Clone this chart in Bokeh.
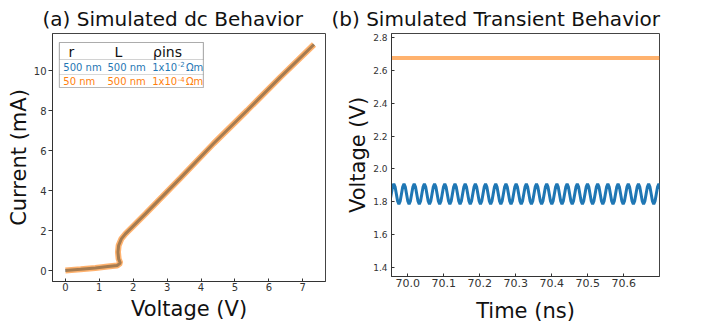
import numpy as np
from bokeh.plotting import figure
from bokeh.layouts import row
from bokeh.models import Range1d, FixedTicker, Label, BoxAnnotation, NumeralTickFormatter
from bokeh.embed import file_html
from bokeh.resources import INLINE

# ---------------- data ----------------
# (a) dc I-V curve (both cases overlap)
dc_voltage = [0.0, 0.45, 0.885, 1.25, 1.525, 1.62, 1.57, 1.55, 1.57, 1.65, 1.77,
              1.97, 2.36, 2.85, 3.39, 4.37, 5.36, 6.34, 7.33]
dc_current = [0.0, 0.06, 0.13, 0.2, 0.25, 0.37, 0.58, 0.92, 1.25, 1.58, 1.83,
              2.17, 2.83, 3.68, 4.62, 6.35, 8.0, 9.67, 11.3]

# (b) transient
# blue case: one period of the oscillation (8 samples)
blue_period_ns = 0.0283
blue_first_peak_ns = 69.9614
blue_period_shape = [1.909, 1.891, 1.847, 1.803, 1.785, 1.803, 1.847, 1.891]
blue_n_periods = 28
# orange case: flat
orange_time = [69.95, 70.70]
orange_voltage = [2.675, 2.675]

x_ticks_a = [0, 1, 2, 3, 4, 5, 6, 7]
y_ticks_a = [0, 2, 4, 6, 8, 10]
x_ticks_b = [70.0, 70.1, 70.2, 70.3, 70.4, 70.5, 70.6]
y_ticks_b = [1.4, 1.6, 1.8, 2.0, 2.2, 2.4, 2.6, 2.8]

table_header = ["r", "L", "\u03c1ins"]
table_r = ["500 nm", "50 nm"]
table_L = ["500 nm", "500 nm"]
table_rho_base = ["1x10", "1x10"]
table_rho_exp = ["-2", "-4"]
table_rho_unit = ["\u03a9m", "\u03a9m"]

BLUE = "#1f77b4"
ORANGE = "#ff7f0e"
FONT = "DejaVu Sans"

# blue waveform built by repeating the read period samples
n = len(blue_period_shape)
blue_time = blue_first_peak_ns - blue_period_ns + np.arange(blue_n_periods * n + 1) * blue_period_ns / n
blue_voltage = np.array(blue_period_shape * blue_n_periods + [blue_period_shape[0]])


def style(p, xfs, yfs):
    p.title.text_font = FONT
    p.title.text_font_size = "20px"
    p.title.text_font_style = "normal"
    p.title.text_color = "#111111"
    p.title.align = "left"
    p.outline_line_color = "#444444"
    p.outline_line_width = 1
    p.outline_line_alpha = 1
    p.grid.visible = False
    p.background_fill_color = "white"
    p.border_fill_color = "white"
    for ax, fs in ((p.xaxis[0], xfs), (p.yaxis[0], yfs)):
        ax.axis_label_text_font = FONT
        ax.axis_label_text_font_size = "21px"
        ax.axis_label_text_font_style = "normal"
        ax.axis_label_text_color = "#111111"
        ax.major_label_text_font = FONT
        ax.major_label_text_font_size = fs
        ax.major_label_text_color = "#333333"
        ax.axis_line_color = "#333333"
        ax.major_tick_line_color = "#333333"
        ax.minor_tick_line_color = None


# ---------------- (a) ----------------
p1 = figure(frame_width=273, frame_height=248, output_backend="svg", toolbar_location=None,
            x_range=Range1d(-0.38, 7.67), y_range=Range1d(-0.55, 11.85),
            min_border_left=52, min_border_right=6, min_border_top=33, min_border_bottom=44,
            title="(a) Simulated dc Behavior")
style(p1, "10px", "10px")
p1.title.offset = -10
p1.title.standoff = 6
p1.xaxis.axis_label = "Voltage (V)"
p1.yaxis.axis_label = "Current (mA)"
p1.xaxis.ticker = FixedTicker(ticks=x_ticks_a)
p1.yaxis.ticker = FixedTicker(ticks=y_ticks_a)
p1.xaxis.major_tick_in = 3
p1.xaxis.major_tick_out = 0
p1.yaxis.major_tick_in = 0
p1.yaxis.major_tick_out = 4
p1.xaxis.major_label_standoff = 1
p1.yaxis.major_label_standoff = 2
p1.xaxis.axis_label_standoff = 3
p1.yaxis.axis_label_standoff = 0

p1.line(dc_voltage, dc_current, line_color=BLUE, line_width=3)
p1.line(dc_voltage, dc_current, line_color=ORANGE, line_width=6, line_alpha=0.6)

# parameter table (legend-like annotation, placed in data units of panel a)
tx0, tx1 = -0.177, 4.07
ty = [11.4, 10.55, 9.8, 9.15]
for k in range(3):
    p1.add_layout(BoxAnnotation(left=tx0, right=tx1, top=ty[k], bottom=ty[k + 1],
                                fill_color="white", fill_alpha=1,
                                line_color="#666666" if k == 0 else "#a0a0a0", line_width=1))
p1.add_layout(BoxAnnotation(left=tx0, right=tx1, top=ty[0], bottom=ty[3],
                            fill_alpha=0, line_color="#555555", line_width=1.2))
head_x = [0.18, 1.56, 3.01]
for hx, h in zip(head_x, table_header):
    p1.add_layout(Label(x=hx, y=10.95, text=h, text_align="center", text_baseline="middle",
                        text_font=FONT, text_font_size="14px", text_color="#111111"))


def cell(x, y, text, color, size="10px"):
    p1.add_layout(Label(x=x, y=y, text=text, text_align="left", text_baseline="middle",
                        text_font=FONT, text_font_size=size, text_color=color))


row_y = [10.16, 9.44]
for i, (ry, c) in enumerate(zip(row_y, [BLUE, ORANGE])):
    cell(-0.06, ry, table_r[i], c)
    cell(1.24, ry, table_L[i], c)
    cell(2.558, ry, table_rho_base[i], c)
    cell(3.31, ry + 0.16, table_rho_exp[i], c, "7px")
    cell(3.555, ry, table_rho_unit[i], c)

# ---------------- (b) ----------------
p2 = figure(frame_width=268, frame_height=243, output_backend="svg", toolbar_location=None,
            x_range=Range1d(69.955, 70.699), y_range=Range1d(1.345, 2.824),
            min_border_left=60, min_border_right=30, min_border_top=32, min_border_bottom=50,
            title="(b) Simulated Transient Behavior")
style(p2, "11px", "9px")
p2.title.offset = -60
p2.title.standoff = 5
p2.xaxis.axis_label = "Time (ns)"
p2.yaxis.axis_label = "Voltage (V)"
p2.xaxis.ticker = FixedTicker(ticks=x_ticks_b)
p2.yaxis.ticker = FixedTicker(ticks=y_ticks_b)
p2.xaxis.formatter = NumeralTickFormatter(format="0.0")
p2.yaxis.formatter = NumeralTickFormatter(format="0.0")
for ax in (p2.xaxis[0], p2.yaxis[0]):
    ax.major_tick_in = 3
    ax.major_tick_out = 0
p2.xaxis.major_label_standoff = 2
p2.yaxis.major_label_standoff = 4
p2.xaxis.axis_label_standoff = 9
p2.yaxis.axis_label_standoff = 0

p2.line(orange_time, orange_voltage, line_color=ORANGE, line_width=4, line_alpha=0.6)
p2.line(blue_time, blue_voltage, line_color=BLUE, line_width=3)

layout = row(p1, p2, spacing=0)
open("out.html", "w").write(file_html(layout, INLINE))
